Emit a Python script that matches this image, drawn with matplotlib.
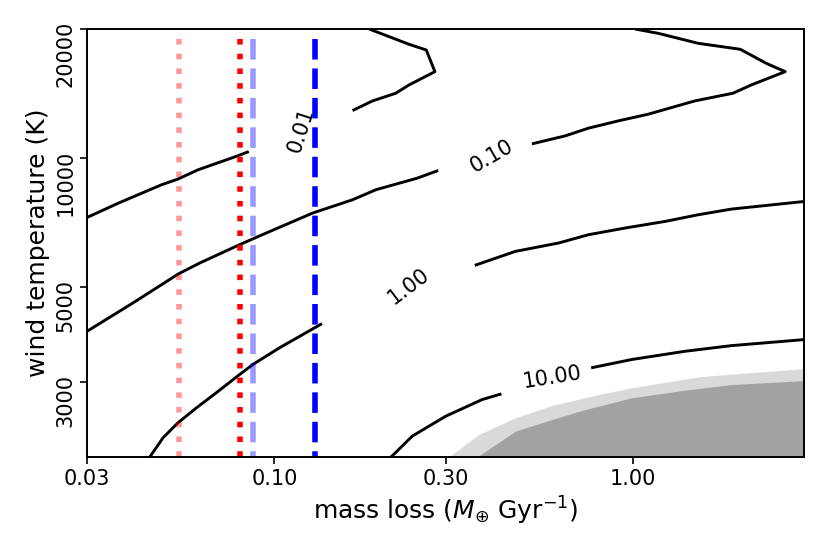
import matplotlib
matplotlib.use("Agg")
import matplotlib.pyplot as plt

# ---- data ----
# contour 0.01 (two pieces, gap for label)
c001_a_x = [0.030, 0.0367, 0.0484, 0.0538, 0.0612, 0.0790, 0.0848]
c001_a_y = [7255, 7838, 8650, 8920, 9376, 10108, 10344]
c001_b_x = [0.1651, 0.1877, 0.2180, 0.2373, 0.2803, 0.2651, 0.2373, 0.1837]
c001_b_y = [12895, 13583, 14158, 14801, 15899, 17865, 18421, 20000]

# contour 0.10
c010_a_x = [0.030, 0.0403, 0.0541, 0.0619, 0.0799, 0.0948, 0.1278, 0.1651, 0.1918, 0.2503, 0.2863]
c010_a_y = [3933, 4581, 5363, 5679, 6266, 6672, 7430, 7980, 8422, 8966, 9341]
c010_b_x = [0.5227, 0.6475, 0.7515, 0.9104, 1.1033, 1.488, 1.902, 2.138, 2.658, 2.353, 1.993, 1.520, 1.176, 1.013]
c010_b_y = [10781, 11255, 11732, 12200, 12647, 13583, 14158, 14801, 15899, 16633, 17931, 18519, 19540, 20000]

# contour 1.00
c100_a_x = [0.0449, 0.0489, 0.0538, 0.0606, 0.0688, 0.0799, 0.0870, 0.1032, 0.1199, 0.1357]
c100_a_y = [2000, 2218, 2404, 2606, 2825, 3116, 3289, 3597, 3864, 4099]
c100_b_x = [0.3621, 0.4698, 0.6202, 0.7515, 0.9505, 1.228, 1.520, 1.881, 3.0]
c100_b_y = [5607, 6046, 6324, 6613, 6855, 7102, 7362, 7590, 7907]

# contour 10.00
c1000_a_x = [0.2115, 0.2424, 0.3002, 0.3795, 0.4296]
c1000_a_y = [2000, 2238, 2490, 2724, 2809]
c1000_b_x = [0.7646, 0.9916, 1.396, 1.881, 3.0]
c1000_b_y = [3231, 3379, 3532, 3641, 3761]

# shaded regions (upper boundaries)
light_x = [0.3066, 0.3715, 0.4698, 0.5942, 0.8013, 0.9916, 1.520, 2.093, 3.0]
light_y = [2000, 2258, 2470, 2638, 2799, 2902, 3078, 3145, 3219]
dark_x = [0.3675, 0.4698, 0.5942, 0.7358, 0.9916, 1.396, 1.881, 3.0]
dark_y = [2000, 2298, 2447, 2582, 2750, 2865, 2953, 3017]

# contour labels: text, x, y, rotation
clabels = [("0.01", 0.1186, 11624, 72),
           ("0.10", 0.4030, 10070, 30),
           ("1.00", 0.2363, 5008, 37),
           ("10.00", 0.5942, 3062, 9)]

# vertical reference lines
vlines_x = [0.054, 0.080, 0.087, 0.13]
vlines_color = ["red", "red", "blue", "blue"]
vlines_alpha = [0.4, 1.0, 0.4, 1.0]
vlines_style = [":", ":", "--", "--"]
vline_top, vline_bottom = 19000, 2000

xticks = [0.03, 0.10, 0.30, 1.00]
xticklabels = ["0.03", "0.10", "0.30", "1.00"]
yticks = [3000, 5000, 10000, 20000]
yticklabels = ["3000", "5000", "10000", "20000"]
xlim = (0.03, 3.0)
ylim = (2000, 20000)

# ---- figure ----
fig = plt.figure(figsize=(8.3, 5.54), dpi=100)
ax = fig.add_axes([87 / 830, 1 - 457 / 554, (804 - 87) / 830, (457 - 29) / 554])
ax.set_xscale("log")
ax.set_yscale("log")

ax.fill_between(light_x, light_y, ylim[0], color="#d9d9d9", lw=0, zorder=1)
ax.fill_between(dark_x, dark_y, ylim[0], color="#a2a2a2", lw=0, zorder=1.1)

lwc = 2.1
for xs, ys in [(c001_a_x, c001_a_y), (c001_b_x, c001_b_y),
               (c010_a_x, c010_a_y), (c010_b_x, c010_b_y),
               (c100_a_x, c100_a_y), (c100_b_x, c100_b_y),
               (c1000_a_x, c1000_a_y), (c1000_b_x, c1000_b_y)]:
    ax.plot(xs, ys, color="black", lw=lwc, zorder=2, solid_capstyle="butt")

for t, x, y, r in clabels:
    ax.text(x, y, t, rotation=r, ha="center", va="center", fontsize=15,
            rotation_mode="anchor", zorder=3)

for x, c, a, s in zip(vlines_x, vlines_color, vlines_alpha, vlines_style):
    ax.plot([x, x], [vline_top, vline_bottom], color=c, alpha=a, ls=s, lw=4,
            dash_capstyle="butt", zorder=4)

ax.set_xlim(*xlim)
ax.set_ylim(*ylim)
ax.minorticks_off()
ax.set_xticks(xticks)
ax.set_xticklabels(xticklabels)
ax.set_yticks(yticks)
ax.set_yticklabels(yticklabels, rotation=90)
ax.tick_params(labelsize=15, length=5, width=1.2)
for sp in ax.spines.values():
    sp.set_linewidth(1.4)
    sp.set_zorder(5)

ax.set_xlabel(r"mass loss ($M_{\oplus}$ Gyr$^{-1}$)", fontsize=18)
ax.set_ylabel("wind temperature (K)", fontsize=18)

fig.savefig("out.png", dpi=100)
